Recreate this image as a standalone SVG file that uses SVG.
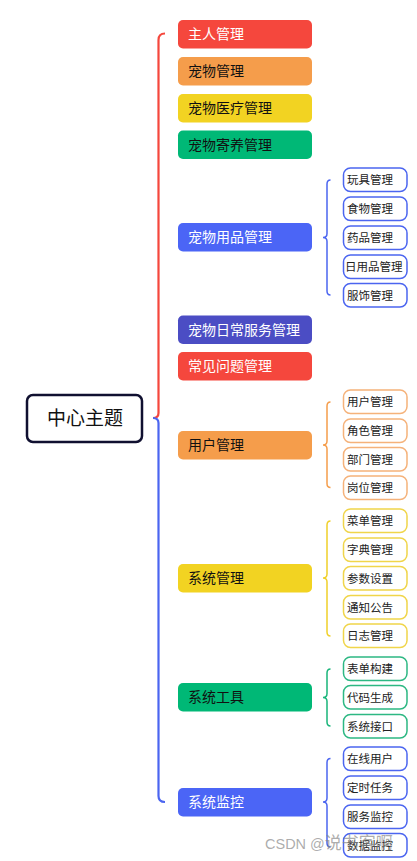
<svg xmlns="http://www.w3.org/2000/svg" width="417" height="861" viewBox="0 0 417 861">
<style>
  .t{font-family:"Noto Sans CJK SC","Liberation Sans",sans-serif;}
  .mt{font-size:14px;}
  .st{font-size:11.5px;fill:#222;}
  .w{fill:#fff;}
  .k{fill:#111;}
  .sb{fill:#fff;stroke-width:1.5;}
  .br{fill:none;stroke-width:1.5;}
  .mbr{fill:none;stroke-width:2.2;}
</style>
<rect width="417" height="861" fill="#fff"/>
<g id="connectors">
  <path class="mbr" stroke="#F5473D" d="M165,33.5 Q158.5,33.5 158.5,40 V413 Q158.5,418 153,418"/>
  <path class="mbr" stroke="#4B65F0" d="M153,418 Q158.5,418 158.5,423 V796 Q158.5,802 165,802"/>
  <path class="br" stroke="#4B65F0" d="M330.5,180 Q327,180 327,184 V233.5 Q327,237.5 323,237.5 Q327,237.5 327,241.5 V291 Q327,295 330.5,295"/>
  <path class="br" stroke="#F59D4B" d="M330.5,402 Q327,402 327,406 V441 Q327,445 323,445 Q327,445 327,449 V483.5 Q327,487.5 330.5,487.5"/>
  <path class="br" stroke="#F0D02A" d="M330.5,521 Q327,521 327,525 V574 Q327,578 323,578 Q327,578 327,582 V632 Q327,636 330.5,636"/>
  <path class="br" stroke="#19B57A" d="M330.5,669 Q327,669 327,673 V693.5 Q327,697.5 323,697.5 Q327,697.5 327,701.5 V722 Q327,726 330.5,726"/>
  <path class="br" stroke="#4B65F0" d="M330.5,758.5 Q327,758.5 327,762.5 V798 Q327,802 323,802 Q327,802 327,806 V843 Q327,847 330.5,847"/>
</g>
<g id="center">
  <rect x="27" y="395" width="115" height="47" rx="6" fill="#fff" stroke="#101030" stroke-width="2.5"/>
  <text class="t" x="85" y="425" font-size="19" text-anchor="middle" fill="#111">中心主题</text>
</g>
<g id="n1"><rect x="178" y="20" width="134" height="28.5" rx="5" fill="#F5473D"/><text class="t mt w" x="188" y="39">主人管理</text></g>
<g id="n2"><rect x="178" y="57" width="134" height="28.5" rx="5" fill="#F59D4B"/><text class="t mt k" x="188" y="76">宠物管理</text></g>
<g id="n3"><rect x="178" y="94" width="134" height="28.5" rx="5" fill="#F2D322"/><text class="t mt k" x="188" y="113">宠物医疗管理</text></g>
<g id="n4"><rect x="178" y="130.5" width="134" height="28.5" rx="5" fill="#00B876"/><text class="t mt k" x="188" y="149.5">宠物寄养管理</text></g>
<g id="n5"><rect x="178" y="223" width="134" height="28.5" rx="5" fill="#4B65F6"/><text class="t mt w" x="188" y="242">宠物用品管理</text></g>
<g id="n6"><rect x="178" y="315.5" width="134" height="28.5" rx="5" fill="#4B4DC4"/><text class="t mt w" x="188" y="334.5">宠物日常服务管理</text></g>
<g id="n7"><rect x="178" y="352" width="134" height="28.5" rx="5" fill="#F5473D"/><text class="t mt w" x="188" y="371">常见问题管理</text></g>
<g id="n8"><rect x="178" y="431" width="134" height="28.5" rx="5" fill="#F59D4B"/><text class="t mt k" x="188" y="450">用户管理</text></g>
<g id="n9"><rect x="178" y="564" width="134" height="28.5" rx="5" fill="#F2D322"/><text class="t mt k" x="188" y="583">系统管理</text></g>
<g id="n10"><rect x="178" y="683" width="134" height="28.5" rx="5" fill="#00B876"/><text class="t mt k" x="188" y="702">系统工具</text></g>
<g id="n11"><rect x="178" y="788" width="134" height="28.5" rx="5" fill="#4B65F6"/><text class="t mt w" x="188" y="807">系统监控</text></g>

<g id="s5" stroke="#4B65F0">
  <g id="s5a"><rect class="sb" x="343.5" y="168" width="63.5" height="23.5" rx="7"/><text class="t st" stroke="none" x="347" y="184">玩具管理</text></g>
  <g id="s5b"><rect class="sb" x="343.5" y="197" width="63.5" height="23.5" rx="7"/><text class="t st" stroke="none" x="347" y="213">食物管理</text></g>
  <g id="s5c"><rect class="sb" x="343.5" y="226" width="63.5" height="23.5" rx="7"/><text class="t st" stroke="none" x="347" y="242">药品管理</text></g>
  <g id="s5d"><rect class="sb" x="343.5" y="255" width="63.5" height="23.5" rx="7"/><text class="t st" stroke="none" x="345" y="271">日用品管理</text></g>
  <g id="s5e"><rect class="sb" x="343.5" y="283.5" width="63.5" height="23.5" rx="7"/><text class="t st" stroke="none" x="347" y="299.5">服饰管理</text></g>
</g>
<g id="s8" stroke="#F5B27A">
  <g id="s8a"><rect class="sb" x="343.5" y="390" width="63.5" height="23.5" rx="7"/><text class="t st" stroke="none" x="347" y="406">用户管理</text></g>
  <g id="s8b"><rect class="sb" x="343.5" y="419" width="63.5" height="23.5" rx="7"/><text class="t st" stroke="none" x="347" y="435">角色管理</text></g>
  <g id="s8c"><rect class="sb" x="343.5" y="447.5" width="63.5" height="23.5" rx="7"/><text class="t st" stroke="none" x="347" y="463.5">部门管理</text></g>
  <g id="s8d"><rect class="sb" x="343.5" y="476" width="63.5" height="23.5" rx="7"/><text class="t st" stroke="none" x="347" y="492">岗位管理</text></g>
</g>
<g id="s9" stroke="#F0D54A">
  <g id="s9a"><rect class="sb" x="343.5" y="509" width="63.5" height="23.5" rx="7"/><text class="t st" stroke="none" x="347" y="525">菜单管理</text></g>
  <g id="s9b"><rect class="sb" x="343.5" y="538" width="63.5" height="23.5" rx="7"/><text class="t st" stroke="none" x="347" y="554">字典管理</text></g>
  <g id="s9c"><rect class="sb" x="343.5" y="566.5" width="63.5" height="23.5" rx="7"/><text class="t st" stroke="none" x="347" y="582.5">参数设置</text></g>
  <g id="s9d"><rect class="sb" x="343.5" y="595.5" width="63.5" height="23.5" rx="7"/><text class="t st" stroke="none" x="347" y="611.5">通知公告</text></g>
  <g id="s9e"><rect class="sb" x="343.5" y="624" width="63.5" height="23.5" rx="7"/><text class="t st" stroke="none" x="347" y="640">日志管理</text></g>
</g>
<g id="s10" stroke="#2DB883">
  <g id="s10a"><rect class="sb" x="343.5" y="657" width="63.5" height="23.5" rx="7"/><text class="t st" stroke="none" x="347" y="673">表单构建</text></g>
  <g id="s10b"><rect class="sb" x="343.5" y="685.5" width="63.5" height="23.5" rx="7"/><text class="t st" stroke="none" x="347" y="701.5">代码生成</text></g>
  <g id="s10c"><rect class="sb" x="343.5" y="714.5" width="63.5" height="23.5" rx="7"/><text class="t st" stroke="none" x="347" y="730.5">系统接口</text></g>
</g>
<g id="s11" stroke="#4B65F0">
  <g id="s11a"><rect class="sb" x="343.5" y="747" width="63.5" height="23.5" rx="7"/><text class="t st" stroke="none" x="347" y="763">在线用户</text></g>
  <g id="s11b"><rect class="sb" x="343.5" y="776" width="63.5" height="23.5" rx="7"/><text class="t st" stroke="none" x="347" y="792">定时任务</text></g>
  <g id="s11c"><rect class="sb" x="343.5" y="805" width="63.5" height="23.5" rx="7"/><text class="t st" stroke="none" x="347" y="821">服务监控</text></g>
  <g id="s11d"><rect class="sb" x="343.5" y="833.5" width="63.5" height="23.5" rx="7"/><text class="t st" stroke="none" x="347" y="849.5">数据监控</text></g>
</g>
<text x="265" y="849" fill="#888" fill-opacity="0.7" font-family="'Liberation Sans','Noto Sans CJK SC',sans-serif" font-size="14.5">CSDN @<tspan font-family="'Noto Sans CJK SC',sans-serif" font-size="17">说书客啊</tspan></text>
</svg>
